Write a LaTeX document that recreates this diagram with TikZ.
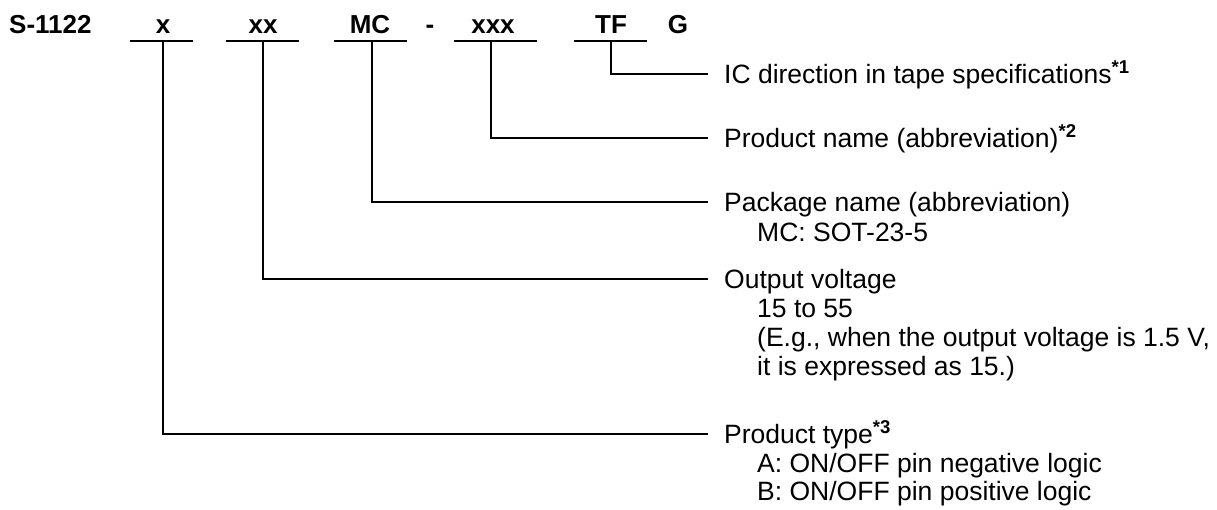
\documentclass[tikz,border=0pt]{standalone}
\usepackage{fontspec}
\setmainfont{Liberation Sans}
\begin{document}
\begin{tikzpicture}[x=1pt,y=-1pt,
  code/.style={font=\fontsize{26}{31}\selectfont\bfseries, inner sep=0, anchor=base},
  lbl/.style={font=\fontsize{26.5}{31}\selectfont, inner sep=0, anchor=base west},
  bar/.style={line width=2.2pt},
  lead/.style={line width=1.8pt}]
\useasboundingbox (0,0) rectangle (1217,509);
% code row
\node[code, anchor=base west] (s) at (9,33) {S-1122};
\node[code] (cx) at (163,33) {x};
\node[code] (cxx) at (263,33) {xx};
\node[code] (cmc) at (370,33) {MC};
\node[code] (cdash) at (430,33) {-};
\node[code] (cxxx) at (493,33) {xxx};
\node[code] (ctf) at (611,33) {TF};
\node[code] (cg) at (678,33) {G};
% underline bars
\draw[bar] (130,41) -- (193,41);
\draw[bar] (226,41) -- (299,41);
\draw[bar] (334,41) -- (407,41);
\draw[bar] (454,41) -- (537,41);
\draw[bar] (574,41) -- (647,41);
% bar centres and leader ends
\coordinate (px) at (163,41);
\coordinate (pxx) at (263,41);
\coordinate (pmc) at (372,41);
\coordinate (pxxx) at (491,41);
\coordinate (ptf) at (611,41);
\coordinate (etf) at (708,74);
\coordinate (exxx) at (708,138);
\coordinate (emc) at (708,202);
\coordinate (exx) at (708,279);
\coordinate (ex) at (708,434);
\draw[lead] (ptf) |- (etf);
\draw[lead] (pxxx) |- (exxx);
\draw[lead] (pmc) |- (emc);
\draw[lead] (pxx) |- (exx);
\draw[lead] (px) |- (ex);
% labels
\node[lbl] (ltf) at (724,83) {IC direction in tape specifications\textsuperscript{\bfseries *1}};
\node[lbl] (lxxx) at (724,147) {Product name (abbreviation)\textsuperscript{\bfseries *2}};
\node[lbl] (lmc) at (724,211) {Package name (abbreviation)};
\node[lbl] (lmc1) at (757,241) {MC: SOT-23-5};
\node[lbl] (lxx) at (724,288) {Output voltage};
\node[lbl] (lxx1) at (757,317) {15 to 55};
\node[lbl] (lxx2) at (757,346) {(E.g., when the output voltage is 1.5 V,};
\node[lbl] (lxx3) at (757,375) {it is expressed as 15.)};
\node[lbl] (lx) at (724,443) {Product type\textsuperscript{\bfseries *3}};
\node[lbl] (lx1) at (757,472) {A: ON/OFF pin negative logic};
\node[lbl] (lx2) at (757,500) {B: ON/OFF pin positive logic};
\end{tikzpicture}
\end{document}
